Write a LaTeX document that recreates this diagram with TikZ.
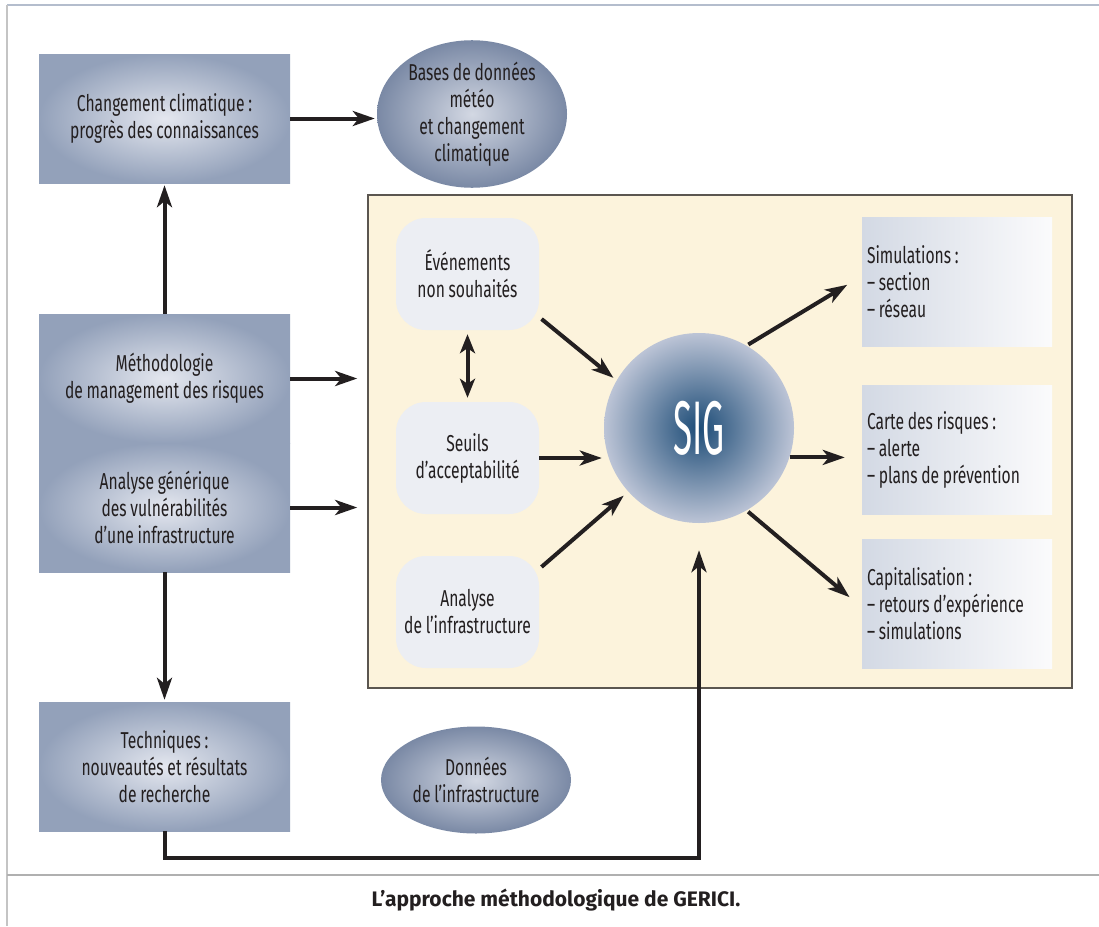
\documentclass[tikz,border=0pt]{standalone}
\usepackage{fontspec}
\setmainfont{Fira Sans}[FakeStretch=0.68, WordSpace=0.9]
\newfontfamily\sigfont{Fira Sans}[FakeStretch=0.46]
\newfontfamily\capfont{Fira Sans}
\usetikzlibrary{arrows.meta,calc,shapes.geometric}
\definecolor{boxout}{HTML}{93A1BA}
\definecolor{boxin}{HTML}{E4E7EF}
\definecolor{ellout}{HTML}{7A89A5}
\definecolor{ellin}{HTML}{D3D8E3}
\definecolor{sigin}{HTML}{1D4C77}
\definecolor{sigout}{HTML}{BCC4D6}
\definecolor{cream}{HTML}{FCF3DC}
\definecolor{innerbox}{HTML}{ECEEF3}
\definecolor{rleft}{HTML}{D3D9E4}
\definecolor{rright}{HTML}{FBFBFC}
\definecolor{ink}{HTML}{231F20}
\definecolor{framecol}{HTML}{5B5650}
\definecolor{topline}{HTML}{B4BDCD}
\definecolor{sideline}{HTML}{C4C4C4}
\tikzset{
  txt/.style={font=\fontsize{23}{27}\selectfont, text=ink, align=center, inner sep=0pt},
  lbox/.style={txt, rectangle, inner color=boxin, outer color=boxout, minimum width=251pt, minimum height=129pt},
  ellbox/.style={txt, ellipse, inner color=ellin, outer color=ellout, minimum width=190pt},
  sigbox/.style={circle, inner color=sigin, outer color=sigout, minimum size=190pt, inner sep=0pt, text=white, font=\sigfont\fontsize{76}{76}\selectfont},
  ibox/.style={txt, rectangle, rounded corners=30pt, fill=innerbox, minimum width=143pt, minimum height=112pt},
  rbox/.style={txt, rectangle, left color=rleft, right color=rright, minimum width=190pt, minimum height=129pt, text width=180pt, align=flush left},
  framebox/.style={rectangle, draw=framecol, line width=1.5pt, fill=cream, minimum width=704pt, minimum height=493pt, inner sep=0pt},
  arr/.style={draw=ink, line width=4pt, -{Stealth[length=22pt,width=15pt,inset=6pt]}},
  darr/.style={draw=ink, line width=4pt, {Stealth[length=19pt,width=15pt,inset=5pt]}-{Stealth[length=19pt,width=15pt,inset=5pt]}},
}
\begin{document}
\begin{tikzpicture}[x=1pt,y=-1pt]
\useasboundingbox (0,0) rectangle (1099,926);
\fill[white] (0,0) rectangle (1099,926);
% page frame lines
\draw[topline, line width=2pt] (7,5) -- (1099,5);
\draw[sideline, line width=2pt] (7,5) -- (7,926);
\draw[sideline!90!black, line width=2pt] (7,875) -- (1099,875);
\node[font=\capfont\bfseries\fontsize{21}{24}\selectfont, text=ink] (cap) at (556,900) {L’approche méthodologique de GERICI.};

% yellow frame
\node[framebox] (frame) at (720,441.5) {};

% left column
\node[lbox] (cc) at (164.5,118.5) {Changement climatique :\\progrès des connaissances};
\node[lbox] (mm) at (164.5,378.5) {Méthodologie\\de management des risques};
\node[lbox] (ag) at (164.5,507.5) {Analyse générique\\des vulnérabilités\\d’une infrastructure};
\node[lbox] (tech) at (164.5,766.5) {Techniques :\\nouveautés et résultats\\de recherche};

% ellipses
\node[ellbox, minimum height=132pt] (bases) at (472,114) {Bases de données\\météo\\et changement\\climatique};
\node[ellbox, minimum height=107pt] (donnees) at (476,780) {Données\\de l’infrastructure};

% inner boxes
\node[ibox] (evt) at (467.5,274) {Événements\\non souhaités};
\node[ibox] (seuils) at (467.5,458) {Seuils\\d’acceptabilité};
\node[ibox] (ana) at (467.5,612) {Analyse\\de l’infrastructure};

% SIG
\node[sigbox] (sig) at (699,428) {SIG};

% right boxes
\node[rbox] (sim) at (957,282) {Simulations :\\– section\\– réseau};
\node[rbox] (carte) at (957,449.5) {Carte des risques :\\– alerte\\– plans de prévention};
\node[rbox] (capi) at (957,603.5) {Capitalisation :\\– retours d’expérience\\– simulations};

% arrows
\draw[arr, shorten >=2pt] (cc.east) -- (cc.east -| bases.west);
\draw[arr, shorten >=2pt] (mm.north) -- (cc.south);
\draw[arr, shorten >=2pt] (ag.south) -- (tech.north);
\draw[arr, shorten >=10pt] (mm.east) -- (mm.east -| frame.west);
\draw[arr, shorten >=10pt] (ag.east) -- (ag.east -| frame.west);
\draw[darr, shorten >=4pt, shorten <=4pt] (evt.south) -- (seuils.north);
\draw[arr, shorten <=3pt, shorten >=4pt] (evt.-31) -- (sig.150);
\draw[arr, shorten >=2pt] (seuils.east) -- (seuils.east -| sig.west);
\draw[arr, shorten <=3pt, shorten >=6pt] (ana.31) -- (sig.222);
\draw[arr, shorten <=2pt, shorten >=17pt] (sig.60) -- ([yshift=6pt]sim.west);
\draw[arr, shorten >=17pt] (sig.-18) -- (sig.-18 -| carte.west);
\draw[arr, shorten <=2pt, shorten >=16pt] (sig.-60) -- ([yshift=-4pt]capi.west);
\coordinate (turn) at (699,858);
\draw[arr, shorten >=27pt] (tech.south) |- (turn) -- (sig.south);
\end{tikzpicture}
\end{document}
